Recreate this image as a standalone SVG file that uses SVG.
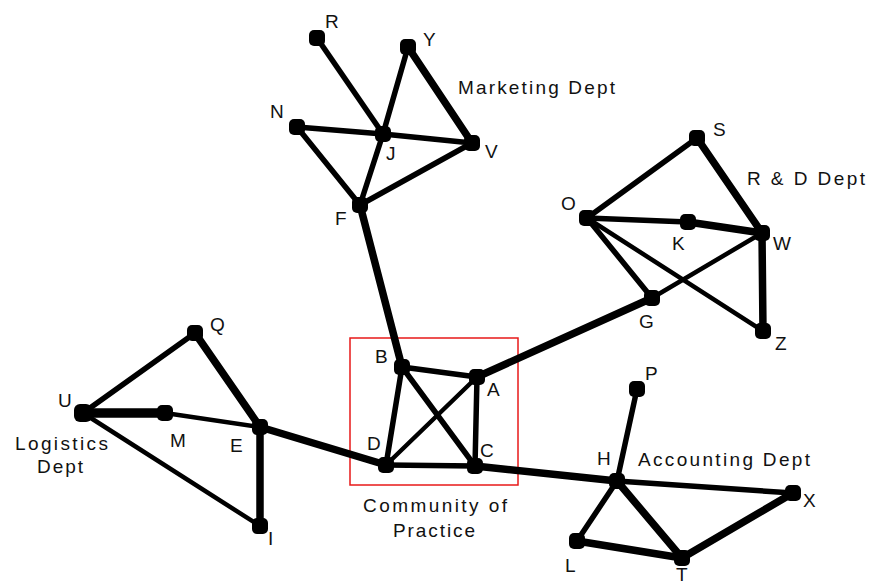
<svg xmlns="http://www.w3.org/2000/svg" width="870" height="585" viewBox="0 0 870 585">
<style>
.e{stroke:#000;fill:none;stroke-linecap:round}
.w4{stroke-width:4.5}
.w5{stroke-width:5.5}
.w6{stroke-width:7.5}
.w8{stroke-width:9.5}
.n{fill:#000}
text{font-family:"Liberation Sans",Arial,sans-serif;font-size:19px;fill:#111}
.box{fill:none;stroke:#e81818;stroke-width:1.5}
</style>
<rect width="870" height="585" fill="#fff"/>
<rect class="box" x="350" y="338" width="168" height="147"/>
<g id="connectors">
<line class="e w5" x1="317" y1="38" x2="383" y2="134"/>
<line class="e w5" x1="408" y1="47" x2="383" y2="134"/>
<line class="e w6" x1="408" y1="47" x2="472" y2="143"/>
<line class="e w5" x1="297" y1="127" x2="383" y2="134"/>
<line class="e w5" x1="383" y1="134" x2="472" y2="143"/>
<line class="e w5" x1="297" y1="127" x2="360" y2="205"/>
<line class="e w5" x1="383" y1="134" x2="360" y2="205"/>
<line class="e w5" x1="360" y1="205" x2="472" y2="143"/>
<line class="e w6" x1="360" y1="205" x2="402" y2="367"/>
<line class="e w5" x1="587" y1="218" x2="697" y2="138"/>
<line class="e w6" x1="697" y1="138" x2="762" y2="233"/>
<line class="e w5" x1="587" y1="218" x2="688" y2="222"/>
<line class="e w6" x1="688" y1="222" x2="762" y2="233"/>
<line class="e w5" x1="587" y1="218" x2="652" y2="298"/>
<line class="e w4" x1="587" y1="218" x2="763" y2="331"/>
<line class="e w4" x1="762" y1="233" x2="652" y2="298"/>
<line class="e w6" x1="762" y1="233" x2="763" y2="331"/>
<line class="e w6" x1="652" y1="298" x2="477" y2="377"/>
<line class="e w5" x1="195" y1="333" x2="83" y2="413"/>
<line class="e w6" x1="195" y1="333" x2="260" y2="427"/>
<line class="e w8" x1="83" y1="413" x2="165" y2="413"/>
<line class="e w4" x1="165" y1="413" x2="260" y2="427"/>
<line class="e w4" x1="83" y1="413" x2="260" y2="526"/>
<line class="e w6" x1="260" y1="427" x2="260" y2="526"/>
<line class="e w6" x1="260" y1="427" x2="386" y2="465"/>
<line class="e w5" x1="402" y1="367" x2="477" y2="377"/>
<line class="e w5" x1="402" y1="367" x2="386" y2="465"/>
<line class="e w5" x1="402" y1="367" x2="475" y2="466"/>
<line class="e w4" x1="386" y1="465" x2="477" y2="377"/>
<line class="e w5" x1="477" y1="377" x2="475" y2="466"/>
<line class="e w5" x1="386" y1="465" x2="475" y2="466"/>
<line class="e w6" x1="475" y1="466" x2="617" y2="481"/>
<line class="e w5" x1="617" y1="481" x2="637" y2="389"/>
<line class="e w5" x1="617" y1="481" x2="793" y2="493"/>
<line class="e w5" x1="617" y1="481" x2="577" y2="541"/>
<line class="e w6" x1="617" y1="481" x2="682" y2="558"/>
<line class="e w6" x1="577" y1="541" x2="682" y2="558"/>
<line class="e w6" x1="682" y1="558" x2="793" y2="493"/>
</g>
<g id="R"><rect class="n" x="309" y="30" width="16" height="16" rx="5"/><text x="325" y="28">R</text></g>
<g id="Y"><rect class="n" x="400" y="39" width="16" height="16" rx="5"/><text x="423" y="46">Y</text></g>
<g id="N"><rect class="n" x="289" y="119" width="16" height="16" rx="5"/><text x="270" y="118">N</text></g>
<g id="J"><rect class="n" x="375" y="126" width="16" height="16" rx="5"/><text x="386" y="160">J</text></g>
<g id="V"><rect class="n" x="464" y="135" width="16" height="16" rx="5"/><text x="485" y="158">V</text></g>
<g id="F"><rect class="n" x="352" y="197" width="16" height="16" rx="5"/><text x="335" y="225">F</text></g>
<g id="S"><rect class="n" x="689" y="130" width="16" height="16" rx="5"/><text x="713" y="136">S</text></g>
<g id="O"><rect class="n" x="579" y="210" width="16" height="16" rx="5"/><text x="561" y="210">O</text></g>
<g id="K"><rect class="n" x="680" y="214" width="16" height="16" rx="5"/><text x="672" y="250">K</text></g>
<g id="W"><rect class="n" x="754" y="225" width="16" height="16" rx="5"/><text x="773" y="250">W</text></g>
<g id="G"><rect class="n" x="644" y="290" width="16" height="16" rx="5"/><text x="639" y="328">G</text></g>
<g id="Z"><rect class="n" x="755" y="323" width="16" height="16" rx="5"/><text x="775" y="350">Z</text></g>
<g id="Q"><rect class="n" x="187" y="325" width="16" height="16" rx="5"/><text x="210" y="331">Q</text></g>
<g id="U"><rect class="n" x="74" y="404" width="18" height="18" rx="6"/><text x="58" y="407">U</text></g>
<g id="M"><rect class="n" x="157" y="405" width="16" height="16" rx="5"/><text x="170" y="447">M</text></g>
<g id="E"><rect class="n" x="252" y="419" width="16" height="16" rx="5"/><text x="230" y="452">E</text></g>
<g id="I"><rect class="n" x="252" y="518" width="16" height="16" rx="5"/><text x="268" y="545">I</text></g>
<g id="B"><rect class="n" x="394" y="359" width="16" height="16" rx="5"/><text x="375" y="363">B</text></g>
<g id="A"><rect class="n" x="469" y="369" width="16" height="16" rx="5"/><text x="487" y="396">A</text></g>
<g id="D"><rect class="n" x="378" y="457" width="16" height="16" rx="5"/><text x="367" y="450">D</text></g>
<g id="C"><rect class="n" x="467" y="458" width="16" height="16" rx="5"/><text x="480" y="457">C</text></g>
<g id="P"><rect class="n" x="629" y="381" width="16" height="16" rx="5"/><text x="645" y="380">P</text></g>
<g id="H"><rect class="n" x="609" y="473" width="16" height="16" rx="5"/><text x="597" y="465">H</text></g>
<g id="X"><rect class="n" x="785" y="485" width="16" height="16" rx="5"/><text x="803" y="507">X</text></g>
<g id="L"><rect class="n" x="569" y="533" width="16" height="16" rx="5"/><text x="565" y="572">L</text></g>
<g id="T"><rect class="n" x="674" y="550" width="16" height="16" rx="5"/><text x="676" y="581">T</text></g>
<g id="labels">
<text x="458" y="94" textLength="157" lengthAdjust="spacing">Marketing Dept</text>
<text x="747" y="185" textLength="118" lengthAdjust="spacing">R &amp; D Dept</text>
<text x="638" y="466" textLength="172" lengthAdjust="spacing">Accounting Dept</text>
<text x="15" y="450" textLength="93" lengthAdjust="spacing">Logistics</text>
<text x="37" y="473" textLength="46" lengthAdjust="spacing">Dept</text>
<text x="363" y="512" textLength="144" lengthAdjust="spacing">Community of</text>
<text x="393" y="537" textLength="82" lengthAdjust="spacing">Practice</text>
</g>
</svg>
